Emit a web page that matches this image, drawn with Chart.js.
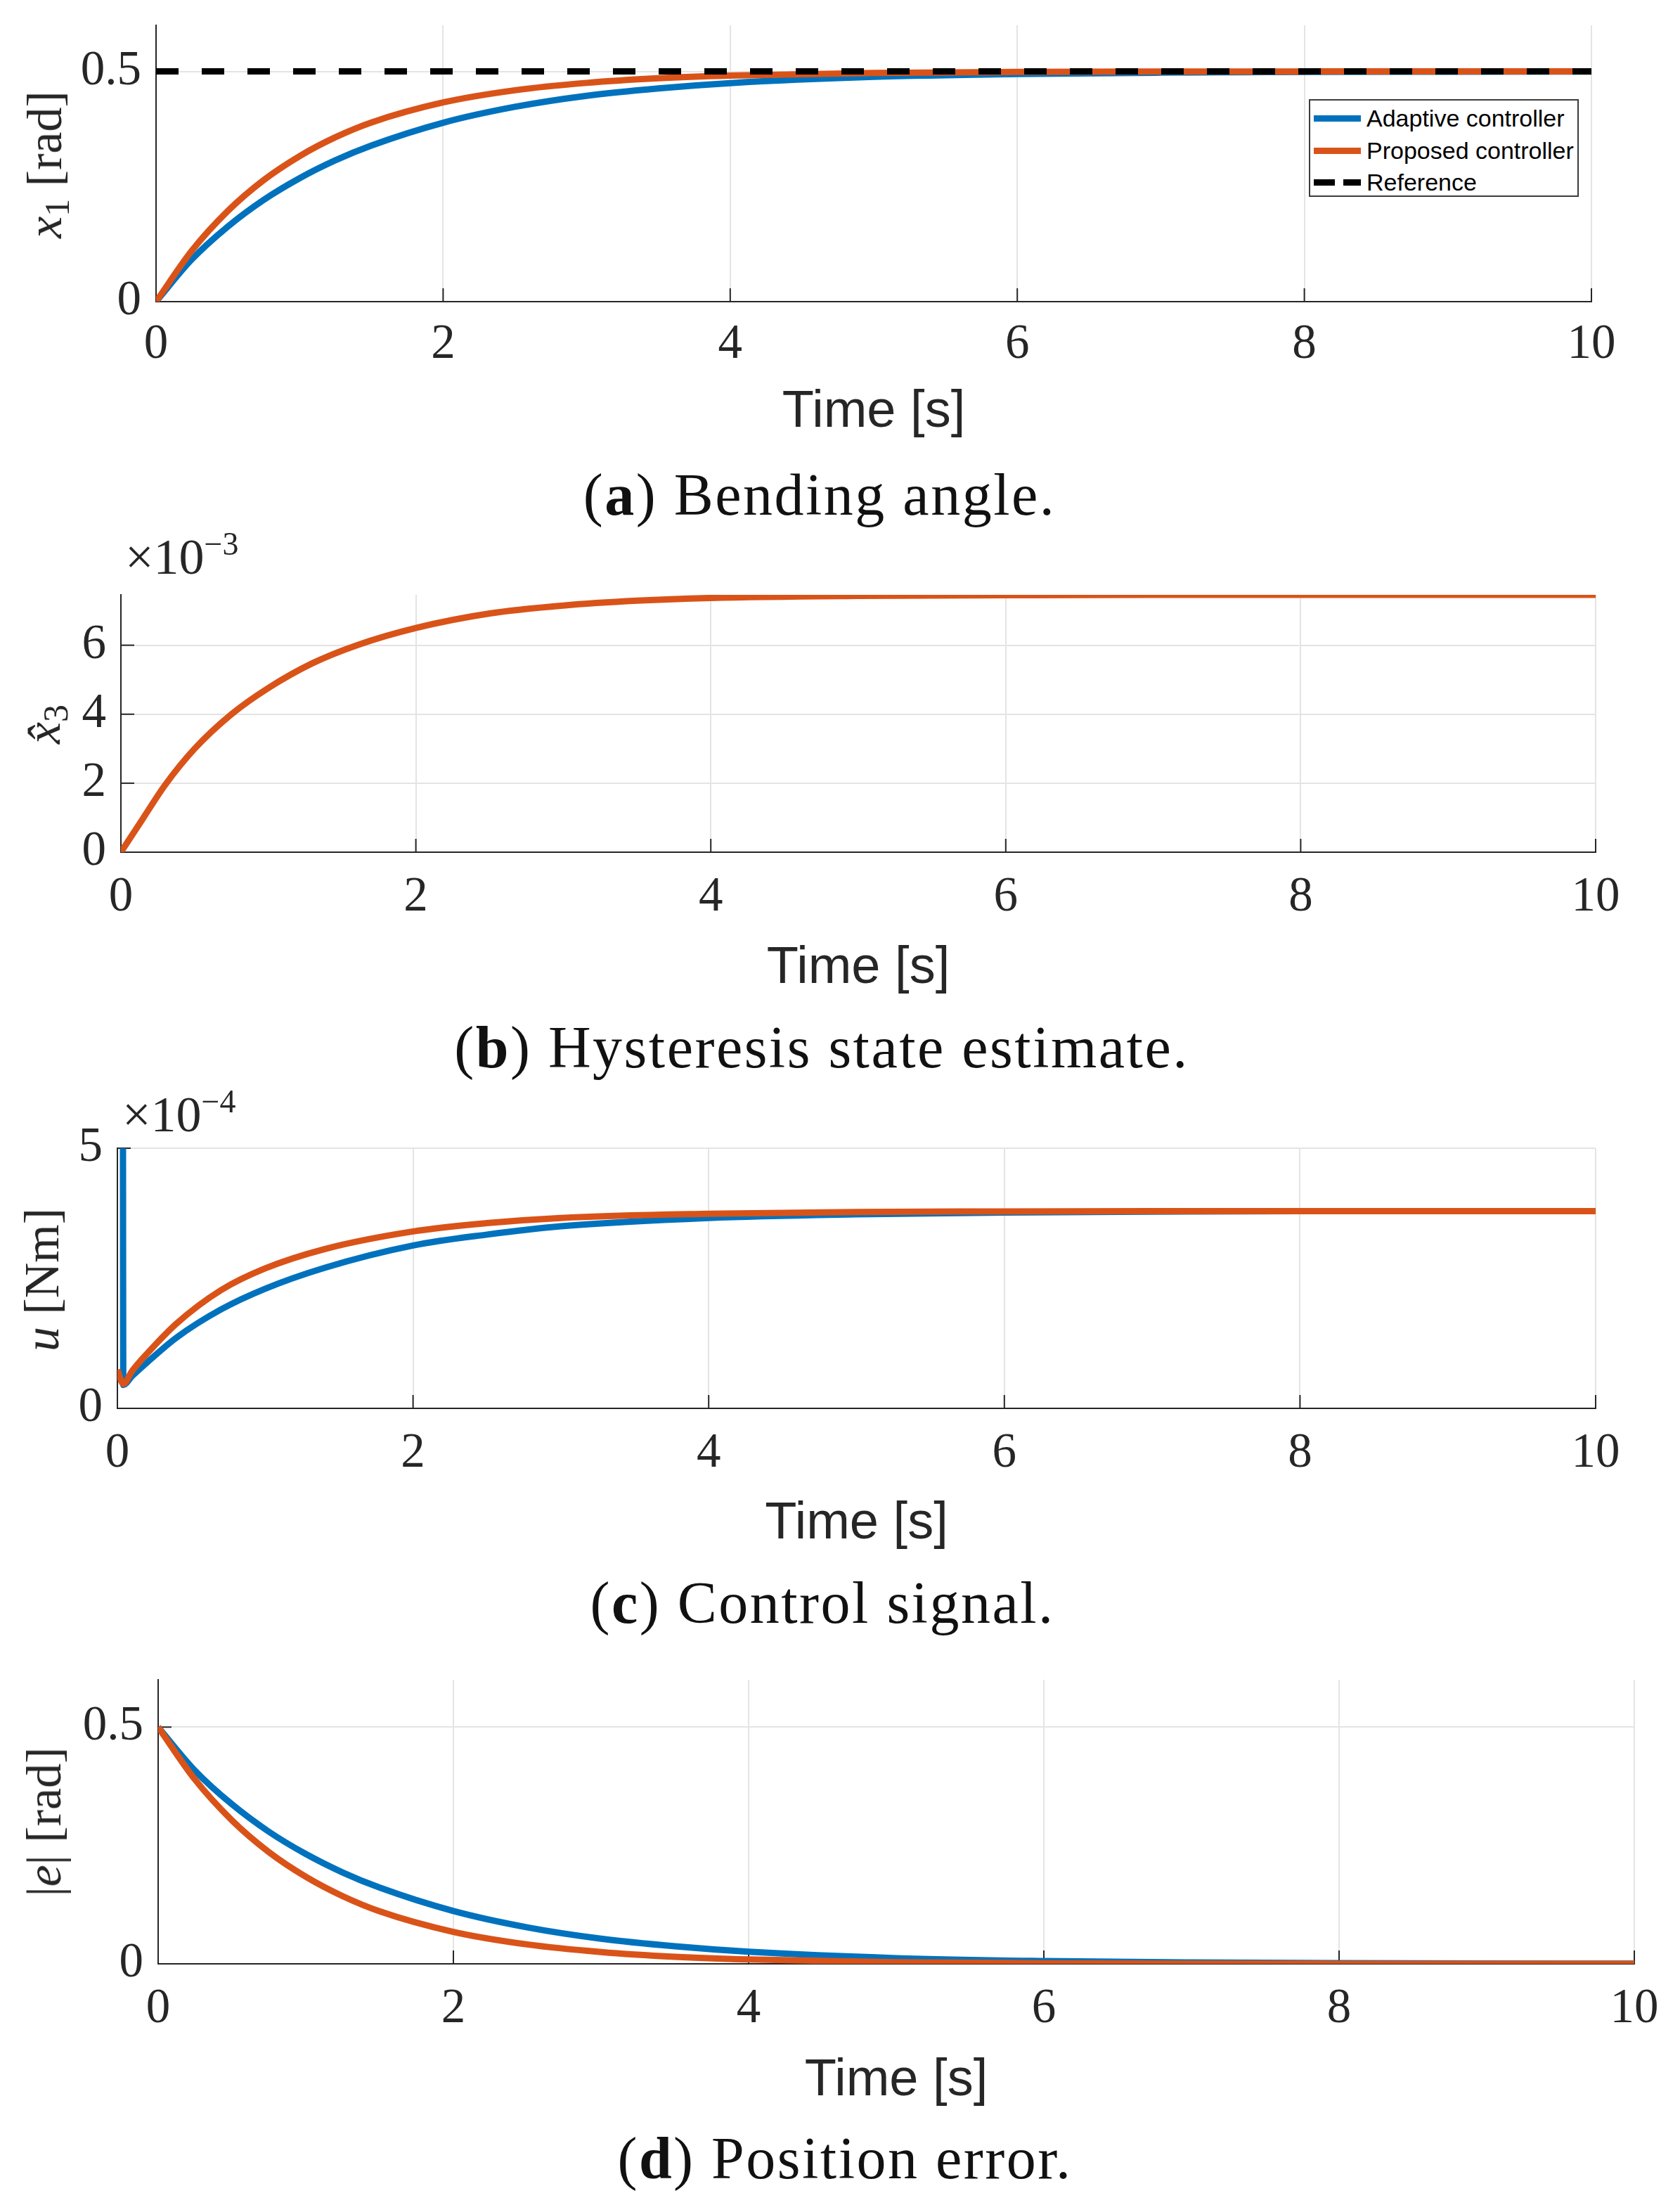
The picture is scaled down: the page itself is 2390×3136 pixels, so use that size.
<!DOCTYPE html>
<html>
<head>
<meta charset="utf-8">
<script src="https://cdn.jsdelivr.net/npm/chart.js@4.4.1/dist/chart.umd.min.js"></script>
<style>
  body { margin: 0; background: #fff; }
  #page { position: relative; width: 2390px; height: 3136px; overflow: hidden; background: #fff; }
  canvas { position: absolute; left: 0; }
  .ylab, .cap, .expo { position: absolute; white-space: nowrap; font-family: "Liberation Serif", serif; color: #262626; line-height: 1; }
  .ylab { font-size: 70px; transform: translate(-50%, -50%) rotate(-90deg); }
  .ylab sub { font-size: 50px; vertical-align: baseline; position: relative; top: 11px; }
  .cap { font-size: 84px; letter-spacing: 2.5px; color: #111; transform: translate(-50%, -50%); }
  .expo { font-size: 72px; }
  .expo sup { font-size: 46px; vertical-align: baseline; position: relative; top: -27px; }
  #legend { position: absolute; left: 1862px; top: 141px; width: 384px; height: 139px; box-sizing: border-box;
            border: 2px solid #3c3c3c; background: #fff; }
  .row { position: absolute; left: 0; height: 0; }
  .swatch { position: absolute; left: 5px; width: 67px; height: 9px; top: -4px; }
  .name { position: absolute; left: 80px; top: 0; transform: translateY(-50%); font-family: "Liberation Sans", sans-serif;
          font-size: 34px; line-height: 1; white-space: nowrap; color: #000; }
</style>
</head>
<body>
<div id="page">
  <canvas id="angleChart"></canvas>
  <canvas id="hystChart"></canvas>
  <canvas id="ctrlChart"></canvas>
  <canvas id="errChart"></canvas>

  <div class="ylab" style="left:64px; top:234px;"><i>x</i><sub>1</sub>&nbsp;[rad]</div>
  <div class="ylab" style="left:62px; top:1030px;"><i>x&#770;</i><sub>3</sub></div>
  <div class="ylab" style="left:60px; top:1820px;"><i>u</i>&nbsp;[Nm]</div>
  <div class="ylab" style="left:63px; top:2591px;">|<i>e</i>|&nbsp;[rad]</div>

  <div class="expo" style="left:178px; top:756px;">×10<sup>−3</sup></div>
  <div class="expo" style="left:174px; top:1549px;">×10<sup>−4</sup></div>

  <div class="cap" style="left:1166px; top:704px;">(<b>a</b>) Bending angle.</div>
  <div class="cap" style="left:1169px; top:1490px;">(<b>b</b>) Hysteresis state estimate.</div>
  <div class="cap" style="left:1170px; top:2280px;">(<b>c</b>) Control signal.</div>
  <div class="cap" style="left:1202px; top:3070px;">(<b>d</b>) Position error.</div>

  <div id="legend"></div>
</div>

<script>
// (a) bending angle x1 [rad]
const angleTime = [0, 0.25, 0.5, 0.75, 1, 1.25, 1.5, 2, 2.5, 3, 3.5, 4, 5, 6, 7, 8, 9, 10];
const angleAdaptive = [0, 0.092, 0.163, 0.221, 0.268, 0.307, 0.339, 0.3885, 0.423, 0.447, 0.463, 0.4745, 0.488, 0.4942, 0.4972, 0.4987, 0.4994, 0.4997];
const angleProposed = [0, 0.111, 0.197, 0.264, 0.316, 0.357, 0.389, 0.4325, 0.459, 0.475, 0.485, 0.4908, 0.4966, 0.4988, 0.4996, 0.4998, 0.4999, 0.5];
const refTime = [0, 10];
const refAngle = [0.5, 0.5];

// (b) hysteresis state estimate, x10^-3
const hystTime = [0, 0.15, 0.3, 0.5, 0.75, 1, 1.3, 1.6, 2, 2.5, 3, 3.5, 4, 5, 6, 7, 10];
const hystProposed = [0, 0.98, 1.95, 3.0, 4.0, 4.76, 5.48, 6.0, 6.5, 6.92, 7.15, 7.29, 7.37, 7.43, 7.45, 7.46, 7.46];

// (c) control signal u [Nm], x10^-4
const ctrlTimeAdaptive = [0, 0.035, 0.04, 0.1, 0.2, 0.4, 0.7, 1, 1.4, 2, 2.5, 3, 4, 5, 6, 7, 8, 10];
const ctrlAdaptive = [12, 12, 0.45, 0.62, 0.88, 1.36, 1.9, 2.3, 2.7, 3.13, 3.34, 3.5, 3.66, 3.73, 3.765, 3.78, 3.79, 3.79];
const ctrlTimeProposed = [0, 0.04, 0.1, 0.2, 0.4, 0.7, 1, 1.4, 2, 2.5, 3, 4, 5, 6, 7, 10];
const ctrlProposed = [0.74, 0.47, 0.72, 1.05, 1.63, 2.27, 2.69, 3.06, 3.40, 3.56, 3.66, 3.74, 3.775, 3.785, 3.79, 3.79];

// (d) position error |e| [rad]
const errTime = [0, 0.25, 0.5, 0.75, 1, 1.25, 1.5, 2, 2.5, 3, 3.5, 4, 5, 6, 7, 8, 9, 10];
const errAdaptive = [0.5, 0.408, 0.337, 0.279, 0.232, 0.193, 0.161, 0.1115, 0.077, 0.053, 0.037, 0.0255, 0.012, 0.0058, 0.0028, 0.0013, 0.0006, 0.0003];
const errProposed = [0.5, 0.389, 0.303, 0.236, 0.184, 0.143, 0.111, 0.0675, 0.041, 0.025, 0.015, 0.0092, 0.0034, 0.0012, 0.00045, 0.00017, 0.00006, 0];

const timeTicks = [0, 2, 4, 6, 8, 10];
const legendNames = ["Adaptive controller", "Proposed controller", "Reference"];

const BLUE = "#0072BD";
const ORANGE = "#D95319";
const AXIS = "#262626";
const GRID = "#e4e4e4";
const PAD_TOP = 80;

function points(xs, ys) {
  return xs.map((x, i) => ({ x: x, y: ys[i] }));
}

function line(label, xs, ys, color, order) {
  return {
    label: label,
    data: points(xs, ys),
    borderColor: color,
    borderWidth: 9,
    pointRadius: 0,
    cubicInterpolationMode: "monotone",
    fill: false,
    order: order,
  };
}

// matlab style ticks pointing into the axes
const innerTicks = {
  id: "innerTicks",
  beforeDatasetsDraw(chart) {
    const { ctx, chartArea, scales } = chart;
    ctx.save();
    ctx.strokeStyle = AXIS;
    ctx.lineWidth = 2;
    scales.x.ticks.forEach((t) => {
      const px = scales.x.getPixelForValue(t.value);
      ctx.beginPath();
      ctx.moveTo(px, chartArea.bottom);
      ctx.lineTo(px, chartArea.bottom - 19);
      ctx.stroke();
    });
    scales.y.ticks.forEach((t) => {
      const py = scales.y.getPixelForValue(t.value);
      ctx.beginPath();
      ctx.moveTo(chartArea.left, py);
      ctx.lineTo(chartArea.left + 19, py);
      ctx.stroke();
    });
    ctx.restore();
  },
};

function makePanel(id, box, yMax, yTicks, datasets) {
  const canvas = document.getElementById(id);
  const top = box.top - PAD_TOP;
  const h = box.titleY + 48 - top;
  canvas.width = 2390;
  canvas.height = h;
  canvas.style.width = "2390px";
  canvas.style.height = h + "px";
  canvas.style.top = top + "px";

  new Chart(canvas, {
    type: "line",
    data: { datasets: datasets },
    options: {
      responsive: false,
      animation: false,
      devicePixelRatio: 1,
      layout: { padding: { top: PAD_TOP, right: 2390 - box.right, left: 0, bottom: 0 } },
      plugins: { legend: { display: false }, tooltip: { enabled: false } },
      scales: {
        x: {
          type: "linear",
          min: 0,
          max: 10,
          afterBuildTicks: (s) => { s.ticks = timeTicks.map((v) => ({ value: v })); },
          afterFit: (s) => { s.height = h - PAD_TOP - (box.bottom - box.top); },
          grid: { color: GRID, lineWidth: 2, drawTicks: false },
          border: { color: AXIS, width: 2 },
          ticks: {
            color: AXIS,
            padding: box.tickPad,
            maxRotation: 0,
            font: { family: "Liberation Serif", size: 69 },
            callback: (v) => String(v),
          },
          title: {
            display: true,
            text: "Time [s]",
            color: AXIS,
            padding: 0,
            font: { family: "Liberation Sans", size: 74 },
          },
        },
        y: {
          type: "linear",
          min: 0,
          max: yMax,
          afterBuildTicks: (s) => { s.ticks = yTicks.map((v) => ({ value: v })); },
          afterFit: (s) => { s.width = box.left; },
          grid: { color: GRID, lineWidth: 2, drawTicks: false },
          border: { color: AXIS, width: 2 },
          ticks: {
            color: AXIS,
            padding: 21,
            font: { family: "Liberation Serif", size: 69 },
            callback: (v) => String(v),
          },
        },
      },
    },
    plugins: [innerTicks],
  });
}

makePanel("angleChart", { left: 222, right: 2264, top: 36, bottom: 429, titleY: 583, tickPad: 20 }, 0.6, [0, 0.5], [
  line(legendNames[0], angleTime, angleAdaptive, BLUE, 3),
  line(legendNames[1], angleTime, angleProposed, ORANGE, 2),
  Object.assign(line(legendNames[2], refTime, refAngle, "#000", 1), { borderDash: [32, 33], cubicInterpolationMode: "default" }),
]);

makePanel("hystChart", { left: 172, right: 2270, top: 846, bottom: 1212, titleY: 1374, tickPad: 23 }, 7.46, [0, 2, 4, 6], [
  line(legendNames[1], hystTime, hystProposed, ORANGE, 2),
]);

makePanel("ctrlChart", { left: 167, right: 2270, top: 1633, bottom: 2003, titleY: 2164, tickPad: 23 }, 5, [0, 5], [
  line(legendNames[0], ctrlTimeAdaptive, ctrlAdaptive, BLUE, 3),
  line(legendNames[1], ctrlTimeProposed, ctrlProposed, ORANGE, 2),
]);

makePanel("errChart", { left: 225, right: 2325, top: 2389, bottom: 2793, titleY: 2956, tickPad: 23 }, 0.6, [0, 0.5], [
  line(legendNames[0], errTime, errAdaptive, BLUE, 3),
  line(legendNames[1], errTime, errProposed, ORANGE, 2),
]);

// legend of panel (a)
const legend = document.getElementById("legend");
const swatches = [
  "background:" + BLUE,
  "background:" + ORANGE,
  "background:repeating-linear-gradient(90deg,#000 0 30px,transparent 30px 42px)",
];
const rowY = [25, 71, 116];
legendNames.forEach((name, i) => {
  const row = document.createElement("div");
  row.className = "row";
  row.style.top = rowY[i] + "px";
  row.innerHTML = '<div class="swatch" style="' + swatches[i] + '"></div><div class="name">' + name + "</div>";
  legend.appendChild(row);
});
</script>
</body>
</html>
